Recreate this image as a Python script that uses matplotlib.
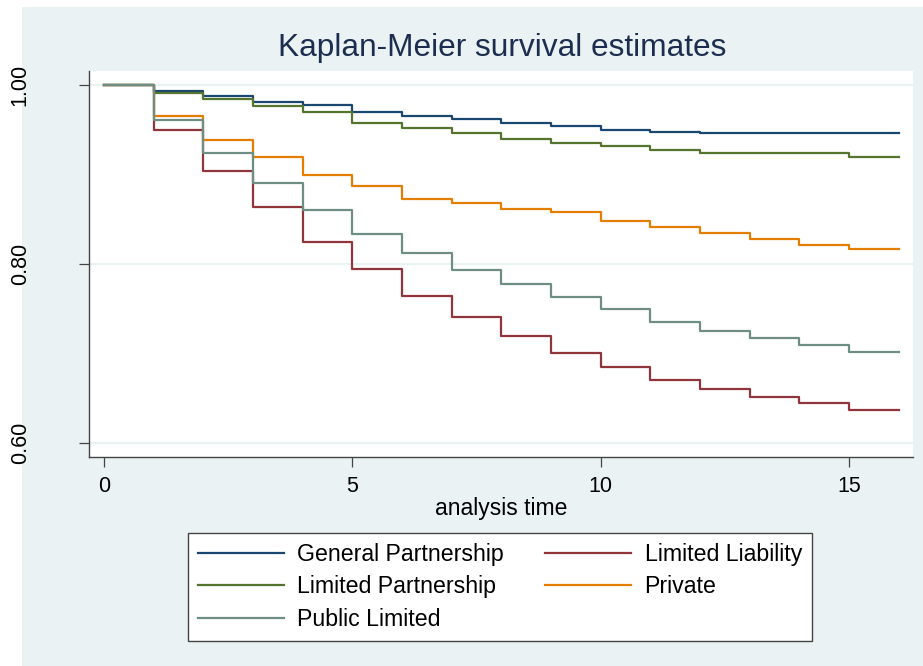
import matplotlib.pyplot as plt
from matplotlib.patches import Rectangle

plt.rcParams['font.family'] = ['Liberation Sans', 'DejaVu Sans']

# survival estimates at analysis time 0..15 (curves run on to t=16)
times = list(range(16))
end_time = 16
general_partnership = [1.0, 0.9936, 0.988, 0.9807, 0.978, 0.9695, 0.9654, 0.9617,
                       0.958, 0.9546, 0.9494, 0.9479, 0.946, 0.946, 0.946, 0.946]
limited_liability = [1.0, 0.9497, 0.9043, 0.864, 0.825, 0.7948, 0.7642, 0.7408,
                     0.7192, 0.7002, 0.6853, 0.670, 0.660, 0.651, 0.6447, 0.6369]
limited_partnership = [1.0, 0.9914, 0.9847, 0.9769, 0.9702, 0.958, 0.952, 0.9464,
                       0.940, 0.9348, 0.9318, 0.9277, 0.924, 0.924, 0.924, 0.9196]
private = [1.0, 0.9657, 0.9385, 0.9192, 0.8994, 0.8866, 0.873, 0.8678,
           0.8618, 0.8581, 0.8484, 0.8415, 0.8346, 0.8283, 0.8209, 0.8173]
public_limited = [1.0, 0.9609, 0.9237, 0.8909, 0.8603, 0.833, 0.812, 0.793,
                  0.778, 0.7635, 0.7494, 0.7356, 0.7246, 0.717, 0.7099, 0.7018]

labels = ['General Partnership', 'Limited Liability', 'Limited Partnership',
          'Private', 'Public Limited']
series = [general_partnership, limited_liability, limited_partnership,
          private, public_limited]
colors = ['#1a476f', '#90353b', '#55752f', '#e37e00', '#6e8e84']

yticks = [0.6, 0.8, 1.0]
ytick_labels = ['0.60', '0.80', '1.00']
xticks = [0, 5, 10, 15]

bg = '#eaf2f3'
W, H = 923, 666

fig = plt.figure(figsize=(W / 100, H / 100), dpi=100, facecolor='white')
# light outer region behind the plot
fig.patches.append(Rectangle((22 / W, 0), 1 - 22 / W, 1 - 7 / H,
                             transform=fig.transFigure, facecolor=bg,
                             edgecolor='none', zorder=-10))

ax = fig.add_axes([89 / W, (H - 457) / H, (913 - 89) / W, (457 - 71) / H])
ax.set_facecolor('white')
ax.set_zorder(1)

lines = {}
for lab, vals, col in zip(labels, series, colors):
    xs = times + [end_time]
    ys = vals + [vals[-1]]
    ln, = ax.step(xs, ys, where='post', color=col, lw=1.6, label=lab, zorder=3)
    lines[lab] = ln

ax.set_xlim(-0.302, 16.29)
ax.set_ylim(0.5844, 1.0156)

for y in yticks:
    ax.axhline(y, color=bg, lw=1.6, zorder=1)

for s in ['top', 'right']:
    ax.spines[s].set_visible(False)
for s in ['left', 'bottom']:
    ax.spines[s].set_color('#444444')
    ax.spines[s].set_linewidth(1.0)

ax.set_yticks(yticks)
ax.set_yticklabels(ytick_labels, rotation=90, va='center')
ax.set_xticks(xticks)
ax.tick_params(axis='both', length=7, width=0.9, color='#444444',
               labelsize=15.5, labelcolor='black')
ax.tick_params(axis='y', pad=35)
ax.tick_params(axis='x', pad=7)

ax.set_xlabel('analysis time', fontsize=16.5)
ax.xaxis.set_label_coords(0.5, (457 - 508) / (457 - 71))
ax.xaxis.label.set_va('center')

fig.text(502 / W, 1 - 48 / H, 'Kaplan-Meier survival estimates',
         ha='center', va='center', fontsize=22.8, color='#1c2d4f')

# row-wise legend order: column one, then column two
order = ['General Partnership', 'Limited Partnership', 'Public Limited',
         'Limited Liability', 'Private']
leg = fig.legend([lines[k] for k in order], order, ncol=2,
                 loc='upper left', bbox_to_anchor=(188 / W, 1 - 533 / H),
                 borderaxespad=0, fontsize=16.7, frameon=True, fancybox=False,
                 handlelength=3.7, handletextpad=0.6, columnspacing=1.75,
                 labelspacing=0.42, borderpad=0.42)
leg.set_zorder(5)
leg.get_frame().set_edgecolor('#444444')
leg.get_frame().set_linewidth(1.0)
leg.get_frame().set_facecolor('white')
leg.get_frame().set_alpha(1)

fig.savefig('out.png', dpi=100, facecolor='white')
